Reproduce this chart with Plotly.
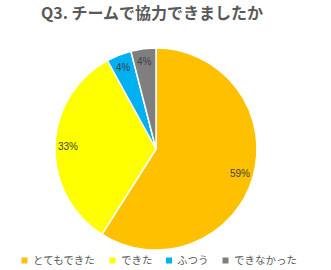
import math
import plotly.graph_objects as go

labels = ["とてもできた", "できた", "ふつう", "できなかった"]
values = [59, 33, 4, 4]
colors = ["#FFC000", "#FFFF00", "#00B0F0", "#7F7F7F"]
title_text = "Q3. チームで協力できましたか"

W, H = 331, 270
# pie geometry (pixels)
CX, CY, R = 156, 149, 101
LABEL_R = 0.87

fig = go.Figure(go.Pie(
    labels=labels,
    values=values,
    sort=False,
    direction="clockwise",
    rotation=0,
    marker=dict(colors=colors, line=dict(color="white", width=1.5)),
    textposition="none",
    domain=dict(x=[(CX - R) / W, (CX + R) / W], y=[1 - (CY + R) / H, 1 - (CY - R) / H]),
    hoverinfo="label+percent",
    showlegend=False,
))

# data labels at the slice mid-angles
total = sum(values)
cum = 0
annotations = []
for v in values:
    mid = (cum + v / 2) / total * 2 * math.pi
    cum += v
    px = CX + LABEL_R * R * math.sin(mid)
    py = CY - LABEL_R * R * math.cos(mid)
    annotations.append(dict(
        x=px / W, y=1 - py / H, xref="paper", yref="paper",
        text=f"{round(v / total * 100)}%", showarrow=False,
        xanchor="center", yanchor="middle",
        font=dict(size=10, color="#404040", family="Liberation Sans, Arial, sans-serif"),
    ))

# legend drawn manually (compact, single row)
legend_x = [24.5, 112.5, 169, 225.5]
legend_y = 260.5
sq = 3
shapes = []
for lx, lab, col in zip(legend_x, labels, colors):
    shapes.append(dict(type="rect", xref="paper", yref="paper",
                       x0=(lx - sq) / W, x1=(lx + sq) / W,
                       y0=1 - (legend_y + sq) / H, y1=1 - (legend_y - sq) / H,
                       fillcolor=col, line=dict(width=0)))
    annotations.append(dict(
        x=(lx + 6) / W, y=1 - (legend_y - 1) / H, xref="paper", yref="paper",
        text=lab, showarrow=False, xanchor="left", yanchor="middle",
        font=dict(size=10.5, color="#595959", family="Noto Sans CJK JP, sans-serif"),
    ))

fig.update_layout(
    width=W, height=H,
    margin=dict(l=0, r=0, t=0, b=0),
    paper_bgcolor="white",
    title=dict(text="<b>" + title_text + "</b>", x=152 / W, xanchor="center", y=1 - 13 / H, yanchor="middle",
               font=dict(size=16, color="#595959", family="Noto Sans CJK JP, sans-serif")),
    showlegend=False,
    annotations=annotations,
    shapes=shapes,
)

fig.write_html("out.html")
